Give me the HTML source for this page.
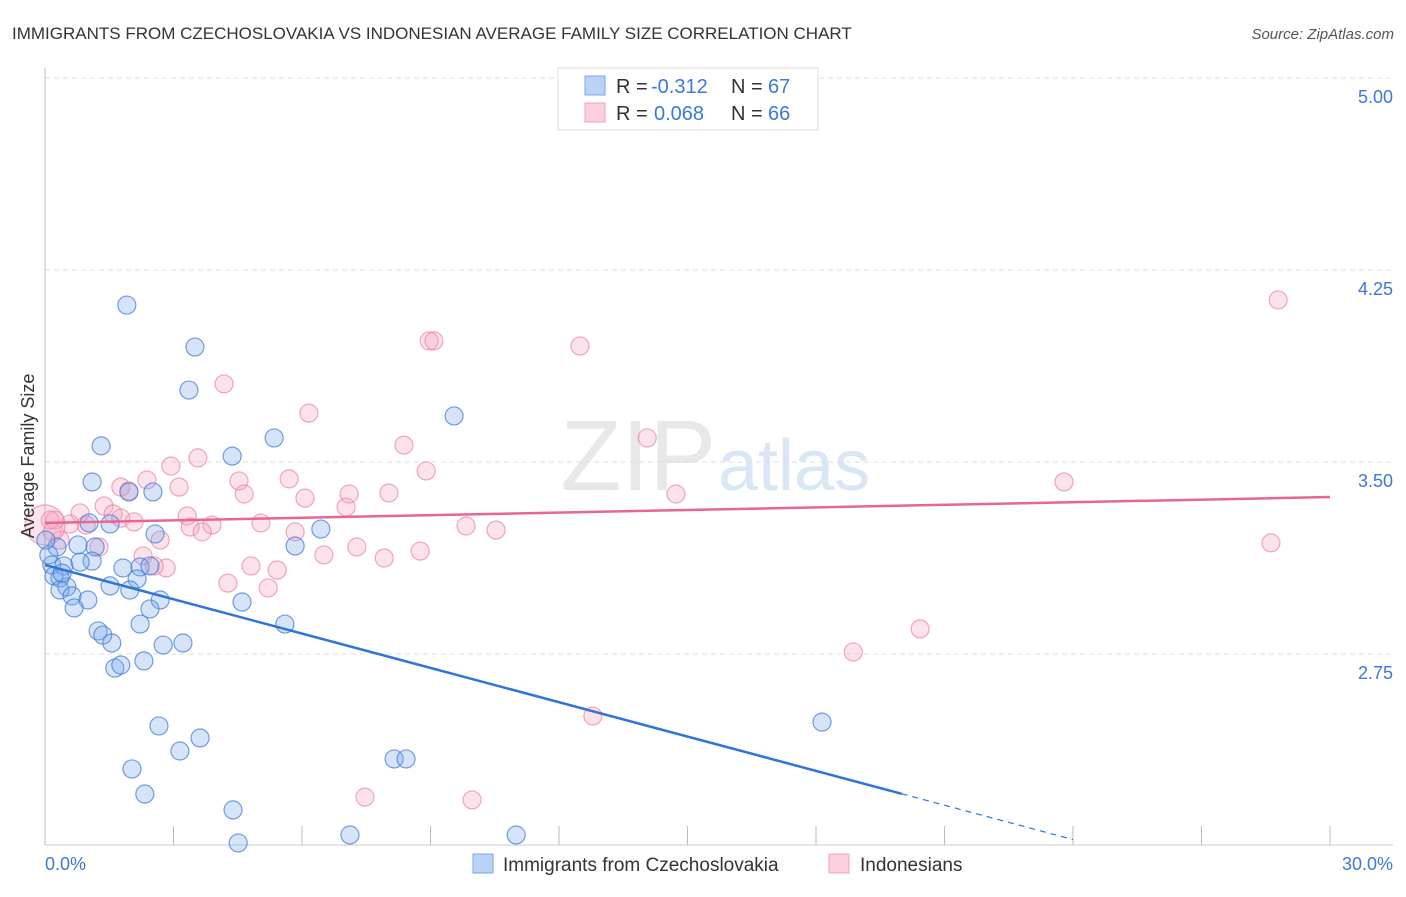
<!DOCTYPE html>
<html><head><meta charset="utf-8"><style>
body{margin:0;background:#fff;font-family:"Liberation Sans",sans-serif}
svg text{font-family:"Liberation Sans",sans-serif}
</style></head><body>
<svg id="c" width="1406" height="892" xmlns="http://www.w3.org/2000/svg">
<text x="12" y="39" font-size="17" fill="#333">IMMIGRANTS FROM CZECHOSLOVAKIA VS INDONESIAN AVERAGE FAMILY SIZE CORRELATION CHART</text>
<text x="1394" y="39" font-size="15" fill="#555" font-style="italic" text-anchor="end">Source: ZipAtlas.com</text>
<text x="716" y="490" font-size="100" fill="#e8e8e8" text-anchor="end" font-family="Liberation Serif">ZIP</text>
<text x="718" y="490" font-size="72" fill="#d9e6f6">atlas</text>
<g id="grid"></g><g id="pts"></g><g id="lines"></g>
<text transform="translate(34,456) rotate(-90)" font-size="18" fill="#333" text-anchor="middle">Average Family Size</text>
<text x="45" y="870" font-size="18" fill="#3b78d8">0.0%</text>
<text x="1393" y="870" font-size="18" fill="#3b78d8" text-anchor="end">30.0%</text>
<g>
<rect x="558" y="68" width="260" height="62" fill="#fff" stroke="#ddd"/>
<rect x="585" y="76" width="20" height="19" fill="#b9d2f5" stroke="#7aa6e6"/>
<text x="616" y="93" font-size="20" fill="#333">R =</text>
<text x="651" y="93" font-size="20" fill="#3b78d8">-0.312</text>
<text x="731" y="93" font-size="20" fill="#333">N =</text>
<text x="768" y="93" font-size="20" fill="#3b78d8">67</text>
<rect x="585" y="103" width="20" height="19" fill="#fbd0dc" stroke="#f0a0b8"/>
<text x="616" y="120" font-size="20" fill="#333">R =</text>
<text x="654" y="120" font-size="20" fill="#3b78d8">0.068</text>
<text x="731" y="120" font-size="20" fill="#333">N =</text>
<text x="768" y="120" font-size="20" fill="#3b78d8">66</text>
</g>
<g>
<rect x="473" y="854" width="20" height="19" fill="#b9d2f5" stroke="#7aa6e6"/>
<text x="503" y="871" font-size="19" fill="#333">Immigrants from Czechoslovakia</text>
<rect x="829" y="854" width="20" height="19" fill="#fbd0dc" stroke="#f0a0b8"/>
<text x="860" y="871" font-size="19" fill="#333">Indonesians</text>
</g>
</svg>
<script>
const blueX=[1.91,3.50,3.36,1.31,5.35,4.37,9.55,1.10,2.52,1.96,1.52,1.03,0.28,0.77,1.17,2.57,5.84,6.44,0.16,0.44,1.10,0.82,0.21,0.35,1.82,2.22,2.45,2.15,0.51,0.35,1.52,1.98,0.63,1.00,2.69,4.60,0.68,2.45,2.22,5.60,1.24,1.35,1.56,2.76,3.22,2.31,1.63,1.77,2.66,3.62,3.15,2.03,8.15,8.43,2.33,4.39,4.51,7.12,11.00,18.14,0.02,0.09,0.40];
const blueY=[4.113,3.949,3.781,3.563,3.594,3.523,3.680,3.422,3.383,3.383,3.258,3.262,3.168,3.176,3.168,3.219,3.172,3.238,3.098,3.094,3.113,3.109,3.055,3.047,3.086,3.090,3.094,3.043,3.012,3.000,3.016,3.000,2.977,2.961,2.961,2.953,2.930,2.926,2.867,2.867,2.840,2.824,2.793,2.785,2.793,2.723,2.695,2.707,2.469,2.422,2.371,2.301,2.340,2.340,2.203,2.141,2.012,2.043,2.043,2.484,3.195,3.137,3.066];
const pinkX=[28.79,8.97,9.08,12.49,4.18,6.16,14.06,8.38,3.57,2.94,8.90,5.70,2.38,3.13,4.53,1.77,1.96,23.79,14.73,4.65,7.10,8.03,6.07,7.03,1.38,0.82,3.32,1.59,1.77,2.08,3.90,5.04,9.83,10.53,0.96,0.58,0.23,3.39,3.67,5.84,2.69,1.26,28.62,7.28,8.76,6.51,7.92,2.29,2.83,4.81,5.42,2.55,4.27,5.21,20.43,18.87,12.79,7.47,9.97,0.16,0.35,0.12,0.0];
const pinkY=[4.133,3.973,3.973,3.953,3.805,3.691,3.594,3.566,3.516,3.484,3.465,3.434,3.430,3.402,3.426,3.402,3.387,3.422,3.375,3.375,3.375,3.379,3.359,3.324,3.328,3.301,3.289,3.297,3.281,3.266,3.254,3.262,3.250,3.234,3.254,3.258,3.273,3.246,3.227,3.227,3.195,3.168,3.184,3.168,3.152,3.137,3.125,3.133,3.086,3.094,3.078,3.094,3.027,3.008,2.848,2.758,2.508,2.191,2.180,3.227,3.195,3.273,3.254];
const yTicks=[5.00,4.25,3.50,2.75];
const xTicks=[0,3,6,9,12,15,18,21,24,27,30];
const blueTrend=[3.098,-0.0447];
const pinkTrend=[3.262,0.00337];
const NS='http://www.w3.org/2000/svg';
const X=v=>45+v*1285/30, Y=v=>78+(5-v)*256;
function mk(p,t,a){const e=document.createElementNS(NS,t);for(const k in a)e.setAttribute(k,a[k]);p.appendChild(e);return e;}
const g=document.getElementById('grid');
yTicks.forEach(v=>{
 const l=mk(g,'line',{x1:45,x2:1393,y1:Y(v),y2:Y(v),stroke:'#ddd','stroke-dasharray':'5,4'});
 
 
 const t=mk(g,'text',{x:1393,y:Y(v)+25,'font-size':18,fill:'#3b78d8','text-anchor':'end'});
 t.textContent=v.toFixed(2);
 
 
});
mk(g,'line',{x1:45,x2:45,y1:68,y2:845,stroke:'#bbb'});
mk(g,'line',{x1:45,x2:1393,y1:845,y2:845,stroke:'#ccc'});
xTicks.forEach(v=>{
 const l=mk(g,'line',{x1:X(v),x2:X(v),y1:826,y2:845,stroke:'#bbb'});
 
 
});
const p=document.getElementById('pts');
pinkX.forEach((x,i)=>{
 const c=mk(p,'circle',{cx:X(x),cy:Y(pinkY[i]),r:i==pinkX.length-1?20:9,fill:'rgba(244,160,188,0.3)',stroke:'rgba(236,130,165,0.7)','stroke-width':1.2});
 
 
});
blueX.forEach((x,i)=>{
 const c=mk(p,'circle',{cx:X(x),cy:Y(blueY[i]),r:9,fill:'rgba(120,165,235,0.3)',stroke:'rgba(70,125,215,0.75)','stroke-width':1.2});
 
 
});
const L=document.getElementById('lines');
const bt=v=>blueTrend[0]+blueTrend[1]*v, pt=v=>pinkTrend[0]+pinkTrend[1]*v;
let e=mk(L,'line',{x1:X(0),y1:Y(bt(0)),x2:X(20),y2:Y(bt(20)),stroke:'#2f74d8','stroke-width':2.5});


e=mk(L,'line',{x1:X(20),y1:Y(bt(20)),x2:X(24),y2:Y(bt(24)),stroke:'#2f74d8','stroke-width':1.2,'stroke-dasharray':'6,5'});


e=mk(L,'line',{x1:X(0),y1:Y(pt(0)),x2:X(30),y2:Y(pt(30)),stroke:'#e8668f','stroke-width':2.5});


</script>
</body></html>
